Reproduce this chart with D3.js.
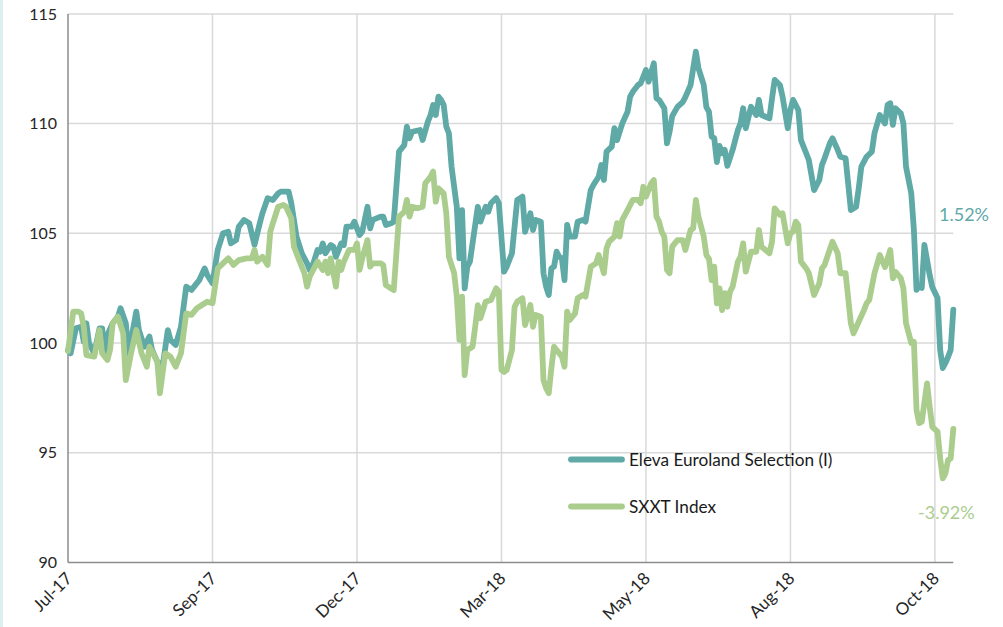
<!DOCTYPE html>
<html>
<head>
<meta charset="utf-8">
<script src="https://cdn.jsdelivr.net/npm/d3@7"></script>
<style>
  html, body { margin: 0; padding: 0; background: #ffffff; }
  svg { display: block; }
</style>
</head>
<body>
<svg id="chart" width="1003" height="627"></svg>
<script>
// ---- data (business-day index from 3 Jul 2017, rebased to 100) ----
const seriesNames = ["Eleva Euroland Selection (I)", "SXXT Index"];
const endLabels = ["1.52%", "-3.92%"];
const tickLabels = ["Jul-17", "Sep-17", "Dec-17", "Mar-18", "May-18", "Aug-18", "Oct-18"];
const tickDays = [0, 55, 110, 165, 220, 275, 330];
const yTicks = [90, 95, 100, 105, 110, 115];

const fundDays = [0,1,3,5,6,7,8,10,12,13,14,15,17,19,20,22,23,24,26,27,29,31,32,34,36,38,39,41,43,45,47,49,50,52,53,55,57,59,61,62,64,65,67,69,71,73,74,76,78,80,81,84,85,87,89,91,92,93,95,96,97,98,100,101,102,104,105,106,108,109,111,112,114,115,116,119,120,121,123,124,126,128,129,130,131,134,135,137,138,139,140,141,142,143,144,145,146,147,148,149,150,151,152,153,156,157,159,160,161,163,164,166,167,169,171,173,174,176,177,178,180,181,182,183,184,185,186,187,188,189,190,191,193,194,196,197,199,200,202,203,204,205,207,208,209,211,213,214,215,217,218,220,221,223,224,225,227,228,229,230,232,234,235,237,238,239,240,242,243,244,245,246,247,248,249,250,251,253,255,256,257,258,260,262,263,264,267,268,269,271,272,274,275,276,278,279,281,282,284,286,287,288,290,291,293,294,296,298,300,301,302,304,306,307,309,311,312,313,314,315,317,318,319,321,322,323,324,325,326,328,329,331,332,333,334,335,336,337];
const fundValues = [99.68,99.53,100.67,100.74,100.06,100.90,99.99,99.53,100.67,100.67,99.53,100.36,100.90,101.20,101.58,100.90,99.53,100.14,101.43,100.59,99.83,100.29,99.68,99.15,98.92,100.59,100.14,99.91,100.74,102.57,102.42,102.72,102.87,103.40,103.10,102.72,104.24,105.00,105.07,104.54,104.69,105.30,105.61,105.46,104.47,105.46,105.91,106.60,106.52,106.82,106.90,106.90,106.37,104.85,104.09,103.63,103.33,103.48,104.24,104.16,104.54,104.09,104.47,104.39,103.93,104.54,104.47,105.30,105.30,105.53,104.92,105.07,106.21,105.23,105.61,105.76,105.76,105.38,105.46,105.53,108.72,109.02,109.86,109.33,109.63,109.71,109.25,110.09,110.39,110.85,110.39,111.23,111.08,110.85,109.86,109.56,108.04,107.12,106.21,103.86,106.06,102.49,103.48,103.71,106.21,105.53,106.21,105.98,106.37,106.60,106.37,103.25,103.48,104.09,106.52,106.67,105.07,105.91,105.15,105.61,105.53,103.18,102.57,102.19,103.40,103.48,104.16,103.93,103.86,102.87,105.38,104.85,104.85,105.53,105.61,105.53,106.97,107.20,107.58,108.11,107.43,108.72,108.95,109.79,109.25,110.01,110.54,111.23,111.45,111.76,111.84,112.44,111.91,112.75,111.15,111.08,110.70,109.10,109.63,110.34,110.76,110.98,111.21,111.76,112.52,113.28,112.52,111.76,110.75,110.54,109.40,109.34,108.25,108.98,108.65,108.80,108.07,108.80,109.71,110.01,110.70,109.79,110.77,110.39,111.08,110.39,110.24,111.15,111.99,111.76,111.23,109.79,110.62,111.08,110.62,109.25,108.65,108.34,106.97,107.43,108.11,108.42,109.10,109.33,108.80,108.49,108.42,106.06,106.21,107.05,108.04,108.49,108.72,109.56,110.39,110.01,110.85,110.93,109.94,110.70,110.47,110.01,108.04,106.82,105.15,102.42,102.60,102.51,104.47,103.10,102.55,102.05,99.68,98.86,99.09,99.36,99.68,101.52];

const indexDays = [0,2,4,5,6,7,10,11,12,13,15,16,17,19,21,22,24,26,28,30,31,34,35,37,39,41,43,45,47,49,51,53,55,57,59,61,63,65,68,70,71,72,74,76,77,78,80,82,83,85,86,88,90,91,92,94,95,97,98,99,100,102,103,104,105,107,109,110,111,112,114,115,116,119,120,121,124,126,128,129,130,131,133,135,136,138,139,140,141,143,144,145,147,148,149,150,151,152,154,155,156,157,159,161,163,164,165,166,167,169,170,171,173,174,176,177,178,180,181,182,183,184,185,186,188,189,190,191,193,194,196,197,199,201,202,204,205,206,208,209,210,211,213,215,217,218,219,220,222,223,224,225,226,227,228,229,230,232,234,235,237,238,239,240,242,243,244,245,246,247,248,249,250,251,252,253,255,256,257,258,260,262,263,264,267,268,269,271,272,274,275,276,277,278,279,281,282,284,286,287,288,291,293,294,296,298,299,301,303,304,305,307,309,311,313,314,315,317,318,319,321,322,323,324,325,327,328,329,331,332,333,334,335,336,337];
const indexValues = [99.63,101.43,101.43,101.35,100.74,99.45,99.38,99.99,100.59,99.53,99.23,99.68,100.90,101.20,100.44,98.31,99.53,100.59,99.53,98.92,99.83,99.15,97.71,99.53,99.38,98.92,99.53,101.35,101.28,101.58,101.73,101.88,101.81,103.40,103.63,103.86,103.56,103.78,103.86,103.86,104.24,103.71,103.93,103.56,105.07,105.46,106.21,106.29,106.21,105.68,104.39,103.78,103.18,102.57,103.02,103.48,103.71,103.33,103.71,103.18,103.86,102.57,103.71,103.33,103.71,104.24,104.24,104.54,103.33,103.86,104.69,103.48,103.63,103.63,103.56,102.64,102.41,105.76,105.98,106.52,105.76,106.21,106.14,106.21,107.28,107.58,107.81,106.44,107.05,106.82,105.91,103.93,103.18,102.11,100.14,102.11,98.54,99.68,99.83,100.74,101.73,101.13,101.88,101.96,102.49,102.34,98.77,98.68,98.77,99.68,101.65,101.88,102.04,100.82,101.73,100.74,101.28,101.20,98.31,97.94,97.71,98.85,99.83,99.68,99.38,98.92,101.43,101.05,101.35,102.04,102.19,102.11,103.48,103.63,104.01,103.18,104.32,104.62,104.85,105.46,104.85,105.61,106.06,106.52,106.52,106.37,107.12,106.67,107.28,107.43,105.76,105.53,105.07,104.85,103.33,103.18,104.39,104.69,104.69,104.24,105.15,105.23,106.52,105.76,104.85,104.01,103.83,102.87,103.48,101.81,102.49,101.50,102.27,101.65,102.34,102.57,103.71,103.93,104.54,103.25,104.16,104.16,105.15,104.39,104.09,104.62,106.14,105.84,105.91,104.54,105.00,105.07,105.53,105.38,103.71,103.40,103.18,102.19,102.72,103.40,103.56,104.62,104.09,103.18,103.18,100.90,100.44,100.97,101.50,101.81,101.96,103.18,104.01,103.46,104.24,102.95,103.24,102.96,102.51,100.90,100.00,100.06,96.94,96.35,96.41,98.16,97.10,96.18,95.96,94.74,93.83,94.06,94.67,94.74,96.08];

// ---- chart ----
const W = 1003, H = 627;
const plotL = 68, plotR = 953.3, plotT = 13.9, plotB = 562.4;
const tealColor = "#5fa9a7";
const greenColor = "#aacd8e";
const gridColor = "#d9d9d9";
const axisColor = "#8c8c8c";
const textFont = "Lato, 'Open Sans', sans-serif";

const svg = d3.select("#chart");

svg.append("rect").attr("x", 0).attr("y", 0).attr("width", 3).attr("height", H).attr("fill", "#deeef1");

const x = d3.scaleLinear().domain([0, 337]).range([plotL, plotR]);
const y = d3.scaleLinear().domain([90, 115]).range([plotB, plotT]);

svg.append("g").selectAll("line").data(yTicks.filter(v => v > 90)).join("line")
  .attr("x1", plotL).attr("x2", plotR)
  .attr("y1", d => y(d)).attr("y2", d => y(d))
  .attr("stroke", gridColor).attr("stroke-width", 1.5);

svg.append("g").selectAll("line").data(tickDays.filter(d => d > 0)).join("line")
  .attr("x1", d => x(d)).attr("x2", d => x(d))
  .attr("y1", plotT).attr("y2", plotB)
  .attr("stroke", gridColor).attr("stroke-width", 1.5);

svg.append("line").attr("x1", plotL).attr("x2", plotL).attr("y1", plotT).attr("y2", plotB)
  .attr("stroke", axisColor).attr("stroke-width", 1.5);
svg.append("line").attr("x1", plotL).attr("x2", plotR).attr("y1", plotB).attr("y2", plotB)
  .attr("stroke", axisColor).attr("stroke-width", 1.5);

svg.append("g").selectAll("text").data(yTicks).join("text")
  .attr("x", 57).attr("y", d => y(d)).attr("dy", "0.35em")
  .attr("text-anchor", "end")
  .attr("font-family", textFont).attr("font-size", 16).attr("fill", "#262626")
  .text(d => d);

svg.append("g").selectAll("text").data(tickDays).join("text")
  .attr("transform", d => `translate(${x(d) + 1},${plotB + 13}) rotate(-45)`)
  .attr("text-anchor", "end")
  .attr("dy", "0.35em")
  .attr("font-family", textFont).attr("font-size", 17).attr("fill", "#262626")
  .text((d, i) => tickLabels[i]);

const line = d3.line().x(d => x(d[0])).y(d => y(d[1]));
const fund = fundDays.map((d, i) => [d, fundValues[i]]);
const index = indexDays.map((d, i) => [d, indexValues[i]]);

svg.append("path").datum(fund).attr("d", line)
  .attr("fill", "none").attr("stroke", tealColor).attr("stroke-width", 5.8)
  .attr("stroke-linejoin", "round").attr("stroke-linecap", "round");
svg.append("path").datum(index).attr("d", line)
  .attr("fill", "none").attr("stroke", greenColor).attr("stroke-width", 5.8)
  .attr("stroke-linejoin", "round").attr("stroke-linecap", "round");

const legendY = [459.5, 506.5];
const colors = [tealColor, greenColor];
const lg = svg.append("g");
seriesNames.forEach((name, i) => {
  lg.append("line").attr("x1", 571).attr("x2", 622).attr("y1", legendY[i]).attr("y2", legendY[i])
    .attr("stroke", colors[i]).attr("stroke-width", 5.8).attr("stroke-linecap", "round");
  lg.append("text").attr("x", 629).attr("y", legendY[i]).attr("dy", "0.35em")
    .attr("font-family", textFont).attr("font-size", 17.2).attr("fill", "#1a1a1a")
    .text(name);
});

svg.append("text").attr("x", 939).attr("y", 215).attr("dy", "0.35em")
  .attr("font-family", textFont).attr("font-size", 18).attr("fill", tealColor)
  .text(endLabels[0]);
svg.append("text").attr("x", 918).attr("y", 513).attr("dy", "0.35em")
  .attr("font-family", textFont).attr("font-size", 18).attr("fill", greenColor)
  .text(endLabels[1]);
</script>
</body>
</html>
